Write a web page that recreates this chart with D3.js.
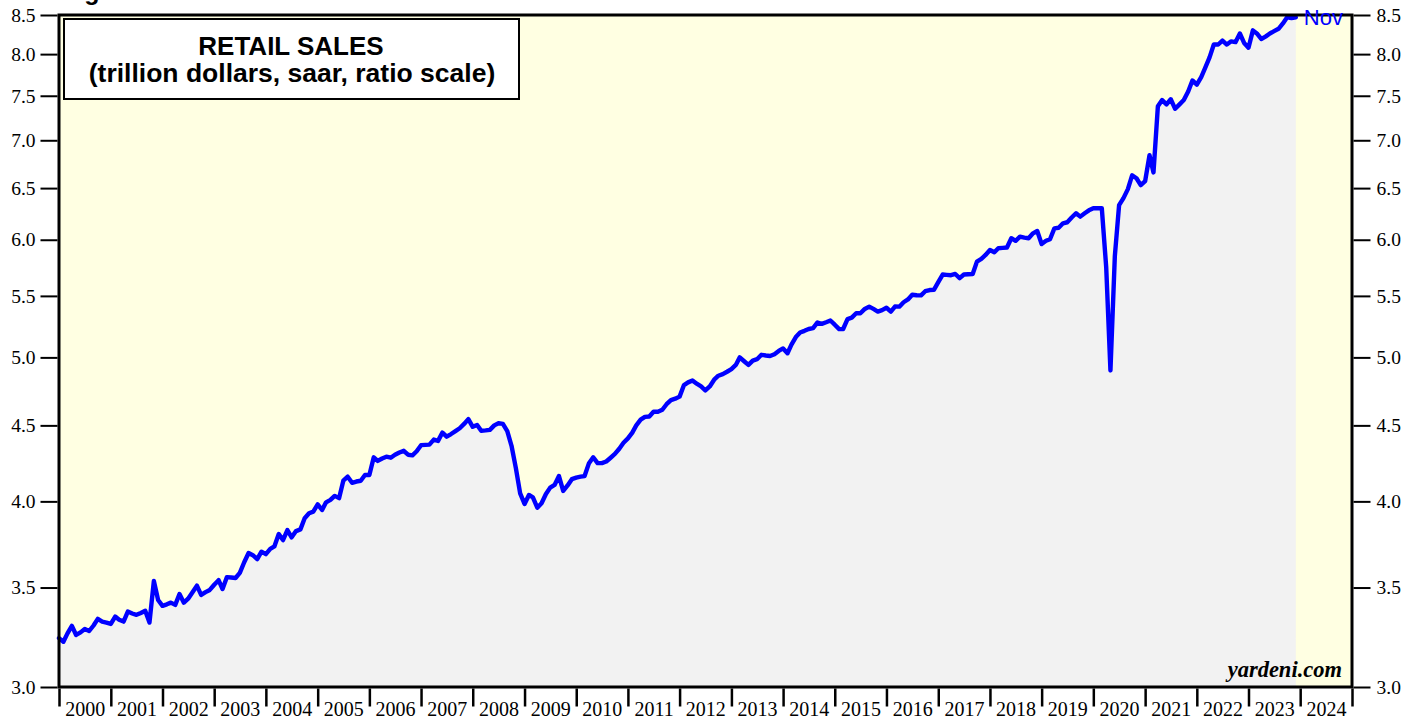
<!DOCTYPE html>
<html>
<head>
<meta charset="utf-8">
<script src="https://cdn.jsdelivr.net/npm/d3@7"></script>
<style>
  html, body { margin: 0; padding: 0; background: #ffffff; }
  svg { display: block; }
</style>
</head>
<body>
<svg id="chart" width="1419" height="721"></svg>
<script>
// ---- DATA (trillion dollars, saar) : monthly, first value = Dec 1999 ----
const startYear = 1999, startMonth = 12;
const retailSales = [
  3.236,
  3.218, 3.26, 3.298, 3.252, 3.265, 3.282, 3.272, 3.30, 3.334, 3.32, 3.315, 3.308,     // 2000
  3.346, 3.33, 3.32, 3.372, 3.362, 3.355, 3.365, 3.376, 3.315, 3.536, 3.433, 3.402,    // 2001
  3.41, 3.419, 3.407, 3.465, 3.419, 3.44, 3.475, 3.51, 3.46, 3.475, 3.487, 3.515,      // 2002
  3.54, 3.492, 3.557, 3.555, 3.552, 3.58, 3.64, 3.692, 3.68, 3.658, 3.70, 3.686,       // 2003
  3.716, 3.73, 3.803, 3.767, 3.826, 3.783, 3.82, 3.83, 3.897, 3.927, 3.937, 3.982,     // 2004
  3.947, 3.994, 4.009, 4.034, 4.02, 4.13, 4.156, 4.117, 4.125, 4.13, 4.167, 4.167,     // 2005
  4.283, 4.259, 4.275, 4.287, 4.28, 4.30, 4.315, 4.326, 4.30, 4.296, 4.323, 4.364,     // 2006
  4.366, 4.368, 4.402, 4.393, 4.45, 4.422, 4.44, 4.46, 4.48, 4.51, 4.544, 4.49,        // 2007
  4.503, 4.462, 4.465, 4.469, 4.50, 4.515, 4.51, 4.46, 4.36, 4.21, 4.05, 3.984,        // 2008
  4.04, 4.025, 3.961, 3.988, 4.046, 4.086, 4.103, 4.16, 4.065, 4.10, 4.14, 4.15,       // 2009
  4.156, 4.16, 4.244, 4.283, 4.244, 4.244, 4.255, 4.28, 4.305, 4.34, 4.38, 4.41,       // 2010
  4.45, 4.50, 4.54, 4.56, 4.562, 4.596, 4.596, 4.61, 4.65, 4.68, 4.69, 4.705,          // 2011
  4.79, 4.81, 4.824, 4.80, 4.78, 4.75, 4.78, 4.83, 4.86, 4.872, 4.89, 4.91,            // 2012
  4.942, 5.00, 4.97, 4.942, 4.975, 4.986, 5.02, 5.015, 5.011, 5.025, 5.05, 5.07,       // 2013
  5.032, 5.10, 5.16, 5.196, 5.21, 5.225, 5.232, 5.278, 5.267, 5.28, 5.294, 5.26,       // 2014
  5.224, 5.225, 5.306, 5.318, 5.354, 5.354, 5.39, 5.409, 5.39, 5.368, 5.38, 5.40,      // 2015
  5.368, 5.41, 5.409, 5.446, 5.47, 5.51, 5.505, 5.504, 5.54, 5.55, 5.552, 5.618,       // 2016
  5.685, 5.682, 5.679, 5.69, 5.653, 5.685, 5.688, 5.69, 5.80, 5.824, 5.86, 5.906,      // 2017
  5.885, 5.922, 5.925, 5.928, 6.014, 5.99, 6.029, 6.02, 6.014, 6.06, 6.082, 5.96,      // 2018
  5.99, 6.005, 6.107, 6.113, 6.155, 6.165, 6.21, 6.252, 6.219, 6.252, 6.28, 6.30,      // 2019
  6.30, 6.30, 5.75, 4.90, 5.85, 6.33, 6.40, 6.49, 6.63, 6.60, 6.53, 6.57,              // 2020
  6.84, 6.66, 7.38, 7.45, 7.40, 7.46, 7.35, 7.40, 7.45, 7.55, 7.68, 7.63,              // 2021
  7.72, 7.83, 7.96, 8.12, 8.12, 8.17, 8.12, 8.16, 8.15, 8.26, 8.14, 8.08,              // 2022
  8.30, 8.26, 8.19, 8.22, 8.26, 8.29, 8.32, 8.39, 8.47, 8.46, 8.47                     // 2023 (to Nov)
];
const yTicks = [3.0, 3.5, 4.0, 4.5, 5.0, 5.5, 6.0, 6.5, 7.0, 7.5, 8.0, 8.5];
const yearLabels = ["2000","2001","2002","2003","2004","2005","2006","2007","2008","2009","2010","2011",
                    "2012","2013","2014","2015","2016","2017","2018","2019","2020","2021","2022","2023","2024"];
const titleLines = ["RETAIL SALES", "(trillion dollars, saar, ratio scale)"];
const lastLabel = "Nov";
const sourceLabel = "yardeni.com";
const figLabel = "Figure 1.";

// ---- LAYOUT ----
const L = 59, R = 1352, T = 15, B = 687;
const svg = d3.select("#chart");

// points plotted at month end (= first day of next month)
const data = retailSales.map((v, i) => ({ date: new Date(startYear, startMonth + i, 1), value: v }));

const x = d3.scaleTime().domain([new Date(2000, 0, 1), new Date(2025, 0, 1)]).range([L, R]);
const y = d3.scaleLog().domain([3, 8.5]).range([B, T]);

// background
svg.append("rect").attr("x", L).attr("y", T).attr("width", R - L).attr("height", B - T).attr("fill", "#ffffe2");

// area
const area = d3.area().x(d => x(d.date)).y0(B).y1(d => y(d.value));
svg.append("path").datum(data).attr("d", area).attr("fill", "#f2f2f2");

// line
const line = d3.line().x(d => x(d.date)).y(d => y(d.value));
svg.append("path").datum(data).attr("d", line)
  .attr("fill", "none").attr("stroke", "#0000ff").attr("stroke-width", 4.4)
  .attr("stroke-linejoin", "round").attr("stroke-linecap", "round");

// frame
svg.append("rect").attr("x", L).attr("y", T).attr("width", R - L).attr("height", B - T)
  .attr("fill", "none").attr("stroke", "#000").attr("stroke-width", 3);

// left axis
const leftAxis = d3.axisLeft(y).tickValues(yTicks).tickFormat(d3.format(".1f")).tickSize(17).tickPadding(5);
const gl = svg.append("g").attr("transform", `translate(${L - 1.5},0)`).call(leftAxis);
// right axis
const rightAxis = d3.axisRight(y).tickValues(yTicks).tickFormat(d3.format(".1f")).tickSize(17).tickPadding(6);
const gr = svg.append("g").attr("transform", `translate(${R + 1.5},0)`).call(rightAxis);
[gl, gr].forEach(g => {
  g.select(".domain").remove();
  g.selectAll(".tick line").attr("stroke", "#000").attr("stroke-width", 2);
  g.selectAll(".tick text").attr("font-family", "'Liberation Serif', 'Times New Roman', serif")
    .attr("font-size", 19.5).attr("fill", "#000");
});

// bottom axis: year boundary ticks
const yearTicks = d3.range(2000, 2026).map(yr => new Date(yr, 0, 1));
const bottomAxis = d3.axisBottom(x).tickValues(yearTicks).tickFormat("").tickSize(18);
const gb = svg.append("g").attr("transform", `translate(0,${B + 1.5})`).call(bottomAxis);
gb.select(".domain").remove();
gb.selectAll(".tick line").attr("stroke", "#000").attr("stroke-width", 2.5);
// year labels centered within each year
svg.append("g").selectAll("text").data(yearLabels).join("text")
  .attr("x", (d) => x(new Date(+d, 6, 1)) + 0.5)
  .attr("y", 716)
  .attr("text-anchor", "middle")
  .attr("font-family", "'Liberation Serif', 'Times New Roman', serif")
  .attr("font-size", 20).attr("fill", "#000")
  .text(d => d);

// title box
svg.append("rect").attr("x", 64).attr("y", 19).attr("width", 455).attr("height", 80)
  .attr("fill", "#fff").attr("stroke", "#000").attr("stroke-width", 2);
svg.append("text").attr("x", 291).attr("y", 55).attr("text-anchor", "middle")
  .attr("font-family", "'Liberation Sans', Arial, sans-serif").attr("font-weight", "bold")
  .attr("font-size", 26).text(titleLines[0]);
svg.append("text").attr("x", 292).attr("y", 82).attr("text-anchor", "middle")
  .attr("font-family", "'Liberation Sans', Arial, sans-serif").attr("font-weight", "bold")
  .attr("font-size", 26.5).text(titleLines[1]);

// figure label at the very top (cut by the page edge, as in the reference)
svg.append("text").attr("x", 62).attr("y", 0)
  .attr("font-family", "'Liberation Sans', Arial, sans-serif").attr("font-weight", "bold")
  .attr("font-size", 25).text(figLabel);

// last-month label
const last = data[data.length - 1];
svg.append("text").attr("x", x(last.date) + 8).attr("y", y(last.value) + 8)
  .attr("font-family", "'Liberation Sans', Arial, sans-serif").attr("font-size", 22)
  .attr("fill", "#0000ff").text(lastLabel);

// source
svg.append("text").attr("x", 1342).attr("y", 677).attr("text-anchor", "end")
  .attr("font-family", "'Liberation Serif', 'Times New Roman', serif").attr("font-weight", "bold")
  .attr("font-style", "italic").attr("font-size", 22.5).text(sourceLabel);
</script>
</body>
</html>
